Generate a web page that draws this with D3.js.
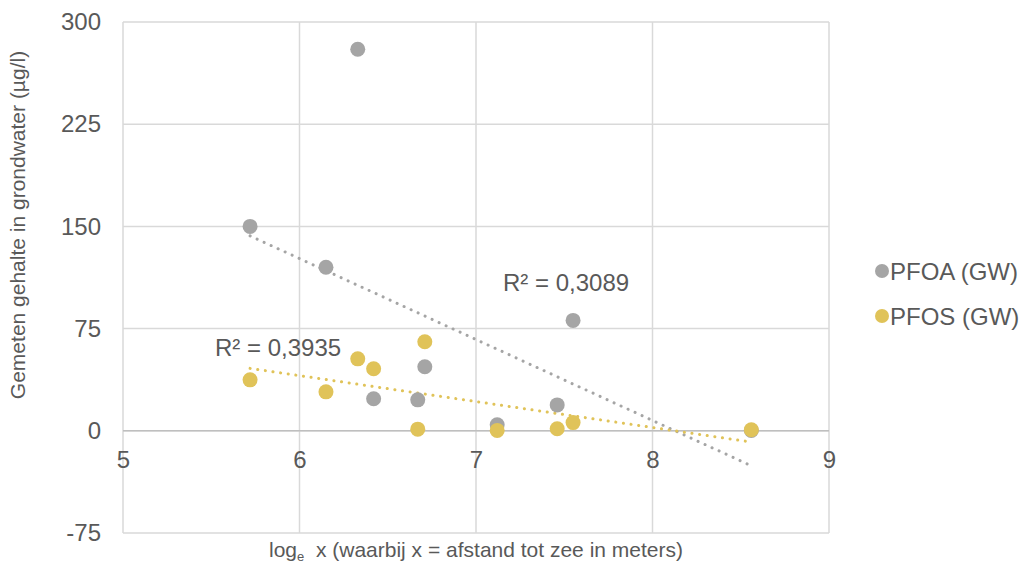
<!DOCTYPE html>
<html><head><meta charset="utf-8">
<script src="https://cdn.jsdelivr.net/npm/d3@7"></script>
<style>body{margin:0;background:#fff;font-family:"Liberation Sans",Arial,sans-serif;}</style>
</head><body><svg id="c" width="1025" height="565"></svg>
<script>
const xValues = [5.72, 6.15, 6.33, 6.42, 6.67, 6.71, 7.12, 7.46, 7.55, 8.56];
const pfoa = [150, 120, 280, 23.5, 22.7, 47, 4.4, 19, 81, 0.3];
const pfos = [37.4, 28.6, 52.8, 45.5, 1.2, 65.3, 0.3, 1.5, 6, 0.8];
const seriesNames = ["PFOA (GW)", "PFOS (GW)"];
const seriesColors = ["#a5a5a5", "#e0c359"];
const r2Labels = ["R² = 0,3089", "R² = 0,3935"];
const xTicks = [5, 6, 7, 8, 9];
const yTicks = [-75, 0, 75, 150, 225, 300];

const svg = d3.select("#c");
const x = d3.scaleLinear().domain([5, 9]).range([123, 829]);
const y = d3.scaleLinear().domain([-75, 300]).range([533, 22]);
const txt = "#595959";
const fmt = d => String(d);

// gridlines
svg.append("g").selectAll("line").data(yTicks).join("line")
  .attr("x1", x(5)).attr("x2", x(9)).attr("y1", d => y(d)).attr("y2", d => y(d))
  .attr("stroke", "#d9d9d9").attr("stroke-width", 1.5);
svg.append("g").selectAll("line").data(xTicks).join("line")
  .attr("y1", y(300)).attr("y2", y(-75)).attr("x1", d => x(d)).attr("x2", d => x(d))
  .attr("stroke", "#d9d9d9").attr("stroke-width", 1.5);
// zero axis line
svg.append("line").attr("x1", x(5)).attr("x2", x(9)).attr("y1", y(0)).attr("y2", y(0))
  .attr("stroke", "#bfbfbf").attr("stroke-width", 1.5);

// y tick labels
const yAxis = svg.append("g").attr("transform", `translate(${x(5)},0)`)
  .call(d3.axisLeft(y).tickValues(yTicks).tickFormat(fmt).tickSize(0).tickPadding(22));
yAxis.select(".domain").remove();
yAxis.selectAll("text").attr("font-size", 24).attr("fill", txt).attr("font-family", "Liberation Sans, Arial, sans-serif");

// x tick labels
const xAxis = svg.append("g").attr("transform", `translate(0,${y(0)})`)
  .call(d3.axisBottom(x).tickValues(xTicks).tickFormat(fmt).tickSize(0).tickPadding(20));
xAxis.select(".domain").remove();
xAxis.selectAll("text").attr("font-size", 24).attr("fill", txt).attr("font-family", "Liberation Sans, Arial, sans-serif");

// regression
function linreg(xs, ys) {
  const n = xs.length, mx = d3.mean(xs), my = d3.mean(ys);
  let sxy = 0, sxx = 0;
  for (let i = 0; i < n; i++) { sxy += (xs[i]-mx)*(ys[i]-my); sxx += (xs[i]-mx)**2; }
  const b = sxy / sxx; return v => my + b * (v - mx);
}
const series = [pfoa, pfos];
const xmin = d3.min(xValues), xmax = d3.max(xValues);
series.forEach((ys, i) => {
  const f = linreg(xValues, ys);
  svg.append("line")
    .attr("x1", x(xmin)).attr("y1", y(f(xmin))).attr("x2", x(xmax)).attr("y2", y(f(xmax)))
    .attr("stroke", seriesColors[i]).attr("stroke-width", 3)
    .attr("stroke-linecap", "round").attr("stroke-dasharray", "0.1 7.6");
});
// points
series.forEach((ys, i) => {
  svg.append("g").selectAll("circle").data(xValues.map((v, j) => [v, ys[j]])).join("circle")
    .attr("cx", d => x(d[0])).attr("cy", d => y(d[1])).attr("r", 7.5)
    .attr("fill", seriesColors[i]);
});

// R² labels
svg.append("text").attr("x", 503).attr("y", 291).attr("font-size", 24).attr("fill", txt).text(r2Labels[0]);
svg.append("text").attr("x", 215).attr("y", 356).attr("font-size", 24).attr("fill", txt).text(r2Labels[1]);

// axis titles
const xt = svg.append("text").attr("x", x(7)).attr("y", 557).attr("text-anchor", "middle")
  .attr("font-size", 21).attr("fill", txt);
xt.append("tspan").text("log");
xt.append("tspan").attr("font-size", 13).attr("dy", 4).text("e");
xt.append("tspan").attr("dy", -4).text("\u00a0 x (waarbij x = afstand tot zee in meters)");
svg.append("text").attr("transform", "translate(25,225) rotate(-90)").attr("text-anchor", "middle")
  .attr("font-size", 21).attr("fill", txt).text("Gemeten gehalte in grondwater (µg/l)");

// legend
seriesNames.forEach((name, i) => {
  const ly = 271 + i * 45;
  svg.append("circle").attr("cx", 882).attr("cy", ly).attr("r", 7).attr("fill", seriesColors[i]);
  svg.append("text").attr("x", 890).attr("y", ly + 8.5).attr("font-size", 24).attr("fill", txt).text(name);
});
</script></body></html>
